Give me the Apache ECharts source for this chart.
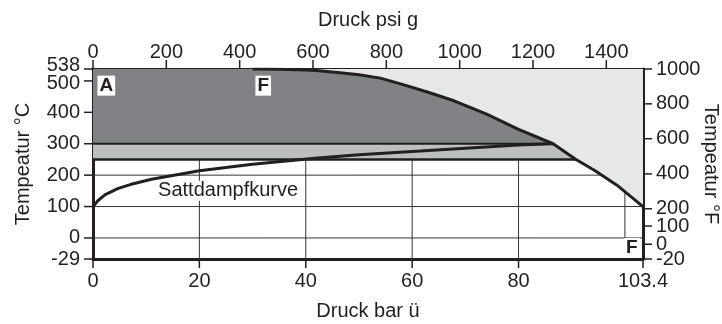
<!DOCTYPE html>
<html><head><meta charset="utf-8">
<script src="https://cdn.jsdelivr.net/npm/echarts@6/dist/echarts.min.js"></script>
<style>html,body{margin:0;padding:0;background:#fff}#c{width:722px;height:324px}</style>
</head><body><div id="c"></div>
<script>
// ---- data (x: Druck bar ü, y: Temperatur °C; the section below 0 °C is drawn stretched, internal -67 = -29 °C)
const limitCurve = [[30,538],[35,537.5],[40,535],[42,533],[46,527],[50,520],[54,509],[58,490],[63,464],[68,436],[74,394],[80,346],[86.5,300],[90.8,250],[94.4,214],[98.5,168],[103.4,100]];
const satCurve = [[0,100],[1,120],[2.3,138],[4.75,158],[7,170],[11,187],[20,214],[30,235],[41.7,254],[50,265],[61.5,277],[70,286],[80,296],[86.5,300]];
const tMax = 538, tMinInternal = -67, barMax = 103.4, psiMax = 1500;
const bandTop = 300, bandBottom = 250;
const barTicks = [0,20,40,60,80,103.4];
const barGrid = [20,40,60,80,100];
const psiTicks = [0,200,400,600,800,1000,1200,1400];
const celsiusTicks = [-67,0,100,200,300,400,500,538];
const celsiusLabels = ['-29','0','100','200','300','400','500','538'];
const fahrenheitTicks = [-67,-20,38,93,204,316,427,538];
const fahrenheitLabels = ['-20','0','100','200','400','600','800','1000'];
const tempGrid = [0,100,200];
const markerText = ['A','F','F'];
const markerPos = [[2.5,485],[32,485],[101.3,-32]];
const curveName = 'Sattdampfkurve';
const curveNamePos = [25.4,150];

const INK = '#231f20', FONT = '"Liberation Sans", Arial, sans-serif';
const chart = echarts.init(document.getElementById('c'), null, {renderer:'canvas'});

const upper = limitCurve.filter(p => p[1] >= bandTop);
const mid = limitCurve.filter(p => p[1] <= bandTop && p[1] >= bandBottom);
const polyLight = limitCurve.concat([[barMax, tMax]]);
const polyDark = [[0, tMax]].concat(upper, [[0, bandTop]]);
const polyMid = [[0, bandTop]].concat(mid, [[0, bandBottom]]);
const topEnd = limitCurve.find(p => p[1] === bandTop);
const botEnd = limitCurve.find(p => p[1] === bandBottom);

function polySeries(points, fill) {
  return {type:'custom', z:2, silent:true, data:[[0,0]],
    renderItem: (params, api) => ({type:'polygon', shape:{points: points.map(p => api.coord(p))}, style:{fill: fill}})};
}
function lineSeries(data, width) {
  return {type:'line', z:3, silent:true, data: data, showSymbol:false, symbol:'none', smooth:false,
    lineStyle:{color: INK, width: width}};
}
// axis ticks + labels drawn outward from the frame through the axes' scales
const TICK = 9;
const labelNudge = {'538': -4, '500': 3};
function framePoints(values, side) {
  return values.map(v => side === 'left' ? [0, v] : side === 'right' ? [barMax, v] : side === 'top' ? [v, tMax] : [v, tMinInternal]);
}
function tickSeries(values, side, xAxisIndex, yAxisIndex) {
  return {type:'custom', z:10, silent:true, clip:false, xAxisIndex, yAxisIndex, data: framePoints(values, side),
    renderItem:(params, api) => {
      const p = api.coord([api.value(0), api.value(1)]);
      let x2 = p[0], y2 = p[1];
      if (side === 'left') x2 -= TICK;
      if (side === 'right') x2 += TICK;
      if (side === 'top') y2 -= TICK;
      if (side === 'bottom') y2 += TICK;
      return {type:'line', z2:10, shape:{x1:p[0], y1:p[1], x2:x2, y2:y2}, style:{stroke:INK, lineWidth:1.5}};
    }};
}
function labelSeries(values, texts, side, xAxisIndex, yAxisIndex, margin) {
  return {type:'custom', z:10, silent:true, clip:false, xAxisIndex, yAxisIndex, data: framePoints(values, side),
    renderItem:(params, api) => {
      const p = api.coord([api.value(0), api.value(1)]);
      const t = texts[params.dataIndex];
      let tx = p[0], ty = p[1], align = 'center', va = 'middle';
      if (side === 'left')   { tx -= margin; align = 'right'; ty += (labelNudge[t] || 0); }
      if (side === 'right')  { tx += margin; align = 'left'; }
      if (side === 'top')    { ty -= margin; va = 'bottom'; }
      if (side === 'bottom') { ty += margin; va = 'top'; }
      return {type:'text', x:tx, y:ty, style:{text:t, align:align, verticalAlign:va, fill:INK, fontFamily:FONT, fontSize:20}};
    }};
}
const lab = {color: INK, fontFamily: FONT, fontSize: 20};
const frame = {show:true, onZero:false, lineStyle:{color:INK, width:3}};

chart.setOption({
  animation:false,
  grid:{left:93, right:79, top:69, bottom:65, outerBoundsMode:'none', containLabel:false},
  xAxis:[
    {type:'value', position:'bottom', min:0, max:barMax,
     name:'Druck bar ü', nameLocation:'middle', nameGap:42, nameTextStyle:lab, nameMoveOverlap:false,
     axisLine:frame, axisTick:{show:false}, axisLabel:{show:false}, splitLine:{show:false}},
    {type:'value', position:'top', min:0, max:psiMax,
     name:'Druck psi g', nameLocation:'middle', nameGap:39, nameTextStyle:lab, nameMoveOverlap:false,
     axisLine:frame, axisTick:{show:false}, axisLabel:{show:false}, splitLine:{show:false}}
  ],
  yAxis:[
    {type:'value', position:'left', min:tMinInternal, max:tMax,
     name:'Tempeatur °C', nameLocation:'middle', nameGap:60, nameTextStyle:lab, nameMoveOverlap:false,
     axisLine:frame, axisTick:{show:false}, axisLabel:{show:false}, splitLine:{show:false}},
    {type:'value', position:'right', min:tMinInternal, max:tMax,
     name:'Tempeatur °F', nameLocation:'middle', nameGap:58, nameRotate:-90, nameTextStyle:lab, nameMoveOverlap:false,
     axisLine:frame, axisTick:{show:false}, axisLabel:{show:false}, splitLine:{show:false}}
  ],
  series:[
    {type:'custom', z:1, silent:true, data: barGrid.map(b => [b, 0]),
     renderItem:(params, api) => { const a = api.coord([api.value(0), tMinInternal]), b = api.coord([api.value(0), tMax]);
       return {type:'line', shape:{x1:a[0], y1:a[1], x2:b[0], y2:b[1]}, style:{stroke:'#333', lineWidth:1}}; }},
    {type:'custom', z:1, silent:true, data: tempGrid.map(t => [0, t]),
     renderItem:(params, api) => { const a = api.coord([0, api.value(1)]), b = api.coord([barMax, api.value(1)]);
       return {type:'line', shape:{x1:a[0], y1:a[1], x2:b[0], y2:b[1]}, style:{stroke:'#333', lineWidth:1}}; }},
    polySeries(polyLight, '#e6e7e8'),
    polySeries(polyDark, '#808285'),
    polySeries(polyMid, '#bcbec0'),
    lineSeries([[0,bandTop], topEnd], 2),
    lineSeries([[0,bandBottom], botEnd], 2.5),
    lineSeries(satCurve, 3),
    lineSeries(limitCurve, 3),
    tickSeries(barTicks, 'bottom', 0, 0),
    tickSeries(psiTicks, 'top', 1, 0),
    tickSeries(celsiusTicks, 'left', 0, 0),
    tickSeries(fahrenheitTicks, 'right', 0, 1),
    labelSeries(barTicks, barTicks.map(String), 'bottom', 0, 0, 12),
    labelSeries(psiTicks, psiTicks.map(String), 'top', 1, 0, 7),
    labelSeries(celsiusTicks, celsiusLabels, 'left', 0, 0, 13),
    labelSeries(fahrenheitTicks, fahrenheitLabels, 'right', 0, 1, 13),
    {type:'custom', z:5, silent:true, data: markerPos,
     renderItem:(params, api) => { const p = api.coord([api.value(0), api.value(1)]);
       return {type:'text', x:p[0], y:p[1], style:{text: markerText[params.dataIndex], align:'center', verticalAlign:'middle',
         fill:INK, fontFamily:FONT, fontSize:19, fontWeight:'bold', backgroundColor:'#fff', padding:[1,2,0,2]}}; }},
    {type:'custom', z:5, silent:true, data:[curveNamePos],
     renderItem:(params, api) => { const p = api.coord([api.value(0), api.value(1)]);
       return {type:'text', x:p[0], y:p[1], style:{text: curveName, align:'center', verticalAlign:'middle',
         fill:INK, fontFamily:FONT, fontSize:20, backgroundColor:'#fff', padding:[0,1]}}; }}
  ]
});
</script></body></html>
